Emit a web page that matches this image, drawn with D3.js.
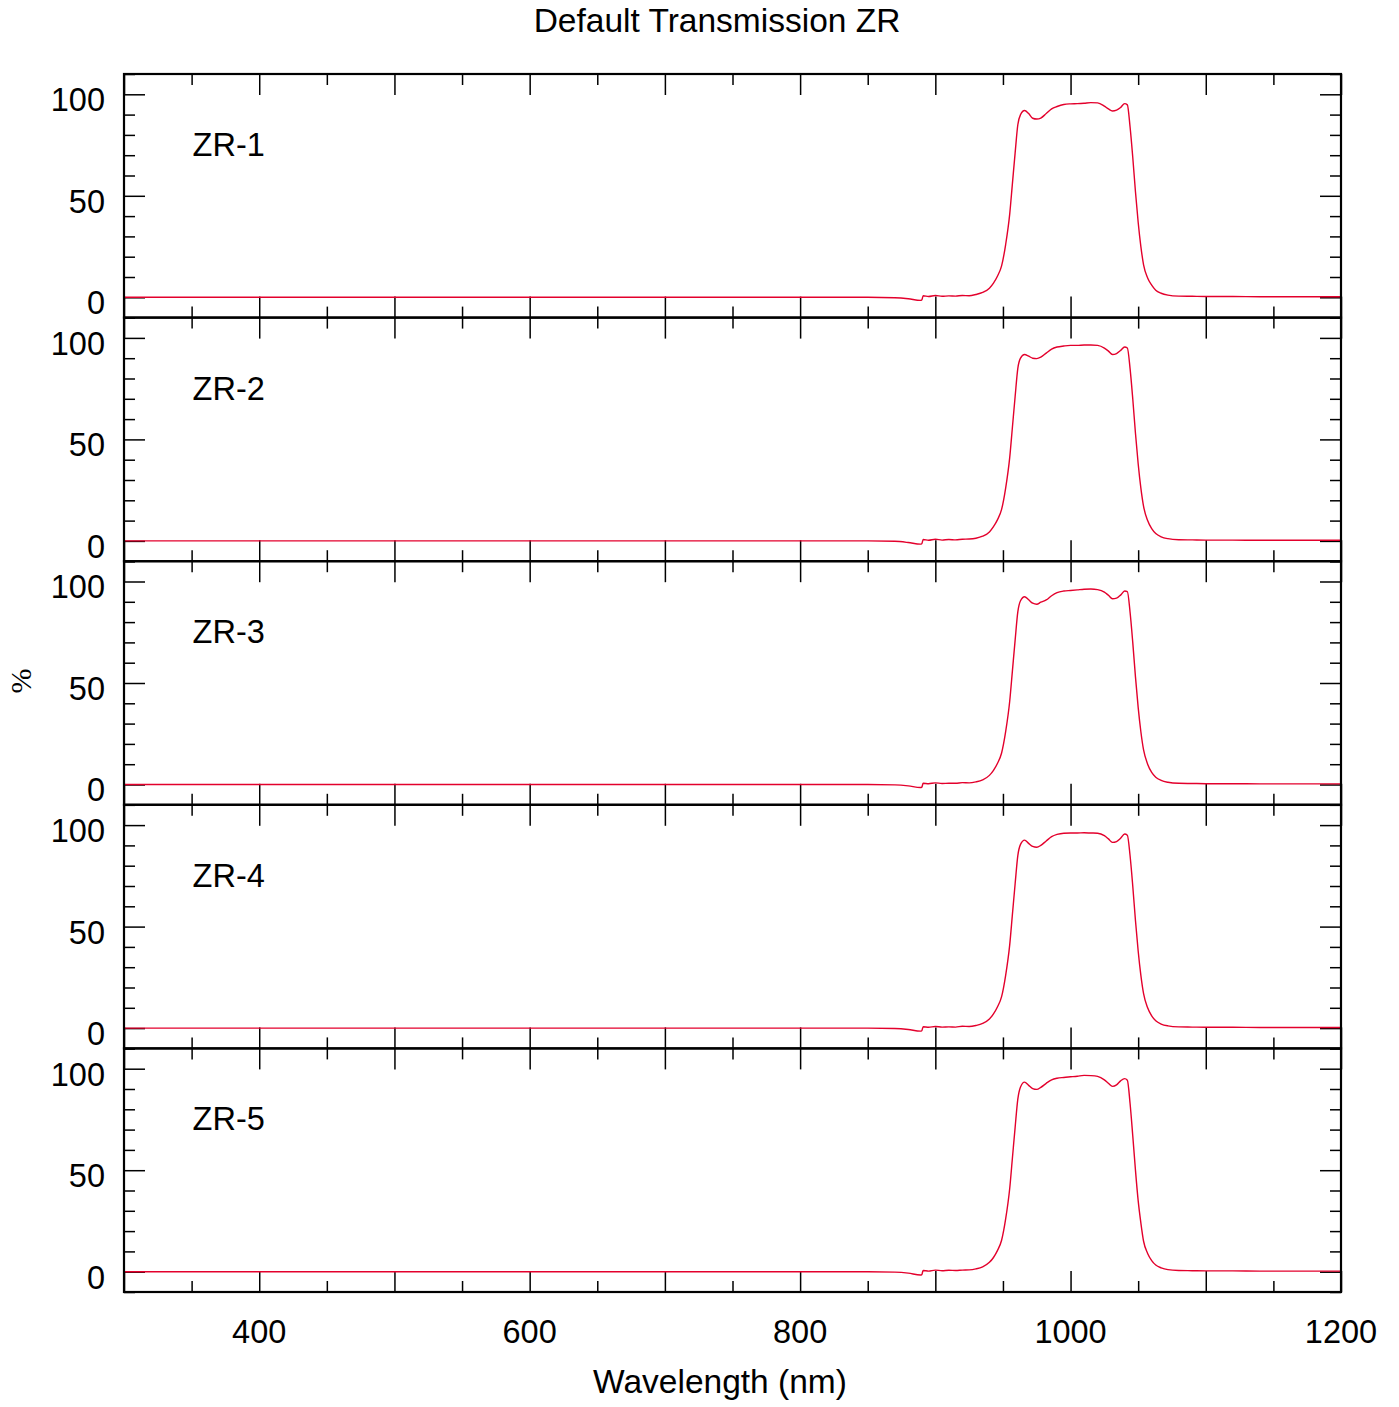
<!DOCTYPE html>
<html>
<head>
<meta charset="utf-8">
<script src="https://cdn.jsdelivr.net/npm/d3@7"></script>
<style>
  body { margin: 0; background: #fff; }
  svg text { font-family: "Liberation Sans", Arial, Helvetica, sans-serif; fill: #000; }
</style>
</head>
<body>
<div id="wrapper"></div>
<script>
// data (wavelength in nm, transmission in %)
const panelNames = ["ZR-1", "ZR-2", "ZR-3", "ZR-4", "ZR-5"];
const xTickLabels = [400, 600, 800, 1000, 1200];
const yTickLabels = [0, 50, 100];

const wavelengths = [300, 850, 870, 880, 889, 890, 891, 895, 900, 905, 910, 915, 920, 925, 930, 935, 940,
  943, 946, 949, 952, 955, 957, 959, 961, 963, 966, 969, 972, 975, 978, 982, 986, 990, 995,
  1000, 1005, 1010, 1015, 1020, 1025, 1028, 1031, 1034, 1037, 1040, 1042, 1044, 1046, 1048,
  1050, 1052, 1054, 1057, 1060, 1063, 1067, 1072, 1080, 1090, 1100, 1120, 1140, 1160, 1180, 1200];

const zr1 = [0, 0, -0.2, -0.7, -1.5, -1.3, 0.8, 0.4, 0.9, 0.5, 0.7, 0.6, 0.9, 0.8, 1.4, 2.4, 4.5,
  7, 10.5, 15.5, 26, 41, 56, 71, 85, 90, 92, 90.5, 88.2, 87.8, 88.3, 90.5, 92.8, 94, 95,
  95.3, 95.4, 95.6, 95.9, 95.8, 94.2, 92.8, 91.8, 92.2, 93.5, 95.4, 94.8, 84, 69, 52,
  37, 25, 16, 9.5, 6, 3.5, 2, 1.1, 0.6, 0.5, 0.4, 0.4, 0.3, 0.3, 0.3, 0.3];

const zr2 = [0, 0, -0.2, -0.8, -1.6, -1.4, 0.7, 0.3, 0.8, 0.4, 0.7, 0.5, 0.8, 0.9, 1.3, 2.3, 4.4,
  7, 10.5, 15.5, 26, 41, 56, 71, 85, 90, 91.8, 91, 90, 89.8, 90.5, 92.5, 94.5, 95.5, 96,
  96.3, 96.3, 96.5, 96.5, 96.3, 95, 93.5, 91.8, 92.3, 93.8, 95.5, 95, 85, 70, 53,
  38, 26, 17, 10, 6, 3.6, 2, 1.1, 0.6, 0.5, 0.4, 0.4, 0.3, 0.3, 0.3, 0.3];

const zr3 = [0, 0, -0.2, -0.7, -1.5, -1.3, 0.6, 0.4, 0.8, 0.5, 0.6, 0.6, 0.9, 0.8, 1.3, 2.3, 4.5,
  7, 10.5, 15.5, 26, 41, 56, 71, 85, 90.5, 92.5, 91, 89.3, 88.8, 89.8, 90.9, 93, 94.5, 95.3,
  95.6, 95.9, 96.2, 96.3, 96, 94.8, 93.2, 91.5, 91.8, 93.3, 95.3, 95, 85, 70, 53,
  38, 26, 17, 10, 6, 3.6, 2, 1.1, 0.6, 0.5, 0.4, 0.4, 0.3, 0.3, 0.3, 0.3];

const zr4 = [0, 0, -0.2, -0.7, -1.5, -1.3, 0.7, 0.4, 0.8, 0.5, 0.6, 0.5, 0.9, 0.8, 1.3, 2.3, 4.5,
  7, 10.5, 15.5, 26, 41, 56, 71, 85, 90.5, 92.6, 91, 89.5, 89.1, 90, 92.2, 94.3, 95.4, 96,
  96.1, 96.1, 96.2, 96.1, 96, 94.8, 93.2, 91.5, 91.9, 93.5, 95.6, 95, 85, 70, 53,
  38, 26, 17, 10, 6, 3.6, 2, 1.1, 0.6, 0.5, 0.4, 0.4, 0.3, 0.3, 0.3, 0.3];

const zr5 = [0, 0, -0.2, -0.7, -1.6, -1.4, 0.6, 0.3, 0.8, 0.5, 0.7, 0.6, 0.8, 0.9, 1.4, 2.4, 4.6,
  7, 10.5, 15.5, 26, 41, 56, 71, 85, 91, 93.4, 91.8, 90.2, 89.8, 90.8, 92.8, 94.5, 95.3, 95.7,
  96, 96.3, 96.7, 96.6, 96.2, 94.5, 92.8, 91.3, 92, 94, 95.1, 94.3, 83, 67, 50,
  35, 24, 15, 9, 5.5, 3.3, 1.9, 1.0, 0.6, 0.5, 0.4, 0.4, 0.3, 0.3, 0.3, 0.3];

const seriesValues = [zr1, zr2, zr3, zr4, zr5];

const drawChart = () => {
  const width = 1399;
  const height = 1407;
  const margin = { top: 74, left: 124, right: 58 };
  const plotWidth = width - margin.left - margin.right;
  const panelHeight = 243.6;

  const svg = d3.select("#wrapper")
    .append("svg")
    .attr("width", width)
    .attr("height", height);

  const xScale = d3.scaleLinear()
    .domain([300, 1200])
    .range([0, plotWidth]);

  const yScale = d3.scaleLinear()
    .domain([-10, 110])
    .range([panelHeight, 0]);

  const xMajor = d3.range(300, 1201, 100);
  const xMinor = d3.range(350, 1200, 100);
  const yMajor = [0, 50, 100];
  const yMinor = [-10, 10, 20, 30, 40, 60, 70, 80, 90, 110];

  const line = d3.line()
    .x((d, i) => xScale(wavelengths[i]))
    .y(d => yScale(d))
    .curve(d3.curveMonotoneX);

  panelNames.forEach((name, p) => {
    const g = svg.append("g")
      .attr("transform", `translate(${margin.left}, ${margin.top + p * panelHeight})`);

    // ticks, all pointing inwards
    const addAxis = (axis, transform) => {
      const a = g.append("g").attr("transform", transform).call(axis);
      a.select(".domain").remove();
      a.selectAll("text").remove();
      a.selectAll("line").attr("stroke", "#000").attr("stroke-width", 1.5);
    };
    addAxis(d3.axisBottom(xScale).tickValues(xMajor).tickSize(-21), `translate(0,${panelHeight})`);
    addAxis(d3.axisBottom(xScale).tickValues(xMinor).tickSize(-11), `translate(0,${panelHeight})`);
    addAxis(d3.axisTop(xScale).tickValues(xMajor).tickSize(-21), "translate(0,0)");
    addAxis(d3.axisTop(xScale).tickValues(xMinor).tickSize(-11), "translate(0,0)");
    addAxis(d3.axisLeft(yScale).tickValues(yMajor).tickSize(-21), "translate(0,0)");
    addAxis(d3.axisLeft(yScale).tickValues(yMinor).tickSize(-11), "translate(0,0)");
    addAxis(d3.axisRight(yScale).tickValues(yMajor).tickSize(-21), `translate(${plotWidth},0)`);
    addAxis(d3.axisRight(yScale).tickValues(yMinor).tickSize(-11), `translate(${plotWidth},0)`);

    g.append("path")
      .datum(seriesValues[p])
      .attr("d", line)
      .attr("fill", "none")
      .attr("stroke", "#e3002c")
      .attr("stroke-width", 1.4);

    g.append("rect")
      .attr("x", 0).attr("y", 0)
      .attr("width", plotWidth).attr("height", panelHeight)
      .attr("fill", "none")
      .attr("stroke", "#000")
      .attr("stroke-width", 2.2);

    g.selectAll(".ylab")
      .data(yTickLabels)
      .join("text")
      .attr("x", -19)
      .attr("y", d => yScale(d) + 17)
      .attr("text-anchor", "end")
      .attr("font-size", 32.5)
      .text(d => d);

    g.append("text")
      .attr("x", xScale(350) + 1)
      .attr("y", yScale(69.6))
      .attr("font-size", 32.5)
      .text(name);
  });

  const bottom = margin.top + 5 * panelHeight;

  svg.append("g")
    .selectAll("text")
    .data(xTickLabels)
    .join("text")
    .attr("x", d => margin.left + xScale(d))
    .attr("y", bottom + 51)
    .attr("text-anchor", "middle")
    .attr("font-size", 32.5)
    .text(d => d);

  svg.append("text")
    .attr("x", 717)
    .attr("y", 32)
    .attr("text-anchor", "middle")
    .attr("font-size", 33.5)
    .text("Default Transmission ZR");

  svg.append("text")
    .attr("x", 720)
    .attr("y", 1393)
    .attr("text-anchor", "middle")
    .attr("font-size", 33.5)
    .text("Wavelength (nm)");

  svg.append("text")
    .attr("transform", "translate(31,681) rotate(-90)")
    .attr("text-anchor", "middle")
    .style("font-family", "'Liberation Serif', 'DejaVu Serif', serif")
    .attr("font-size", 30)
    .text("%");
};

drawChart();
</script>
</body>
</html>
